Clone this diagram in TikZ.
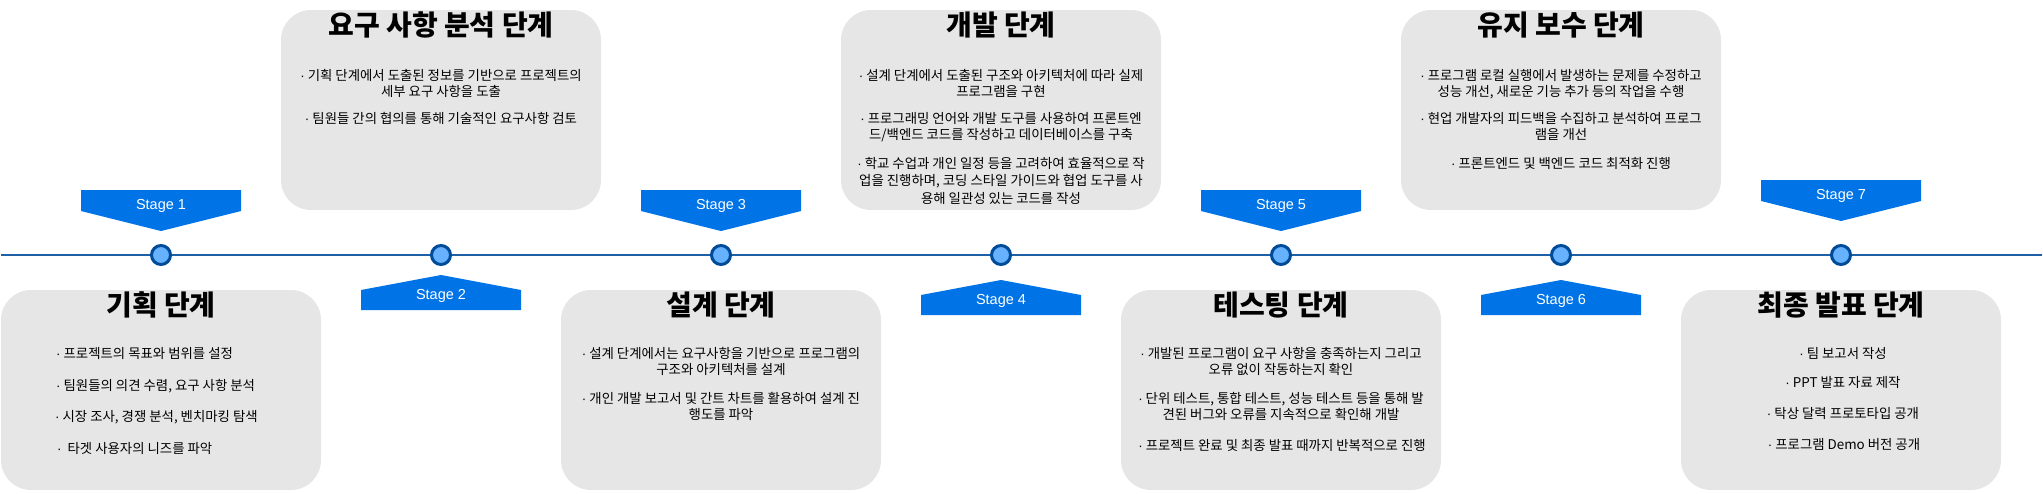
\documentclass[tikz,border=0pt]{standalone}
\usepackage{fontspec}
\setmainfont{Liberation Sans}
\newfontfamily\kr{Noto Sans CJK KR}
\definecolor{boxgray}{HTML}{E6E6E6}
\definecolor{stageblue}{HTML}{0073E6}
\definecolor{linedark}{HTML}{1F5FA6}
\definecolor{dotfill}{HTML}{66B2FF}
\definecolor{dotline}{HTML}{004C99}
\newcommand\bdot{{\normalfont ·}}
\newcommand\stagedn[2]{\fill[stageblue] (#1-80,#2) -- (#1+80,#2) -- (#1+80,#2+21) -- (#1,#2+41) -- (#1-80,#2+21) -- cycle;}
\newcommand\stageup[2]{\fill[stageblue] (#1,#2) -- (#1+80,#2+15) -- (#1+80,#2+35) -- (#1-80,#2+35) -- (#1-80,#2+15) -- cycle;}
\begin{document}
\begin{tikzpicture}[x=1pt,y=-1pt,
  card/.style={fill=boxgray, rounded corners=30pt},
  ttl/.style={font=\kr\bfseries\fontsize{28}{30}\selectfont, inner sep=0pt, text height=0.83em, text depth=0.07em},
  bul/.style={font=\kr\fontsize{13.4}{16}\selectfont, align=center, inner sep=0pt, anchor=north},
  bull/.style={font=\kr\fontsize{13.4}{16}\selectfont, inner sep=0pt, anchor=north west},
  lbl/.style={font=\fontsize{14.5}{16}\selectfont, text=white, inner sep=0pt, text height=0.716em, text depth=0pt},
  dot/.style={circle, fill=dotfill, draw=dotline, line width=3pt, minimum size=19pt, inner sep=0pt}]
\useasboundingbox (0,0) rectangle (2043,493);
% cards
\fill[card] (1,290) rectangle (321,490);
\fill[card] (281,10) rectangle (601,210);
\fill[card] (561,290) rectangle (881,490);
\fill[card] (841,10) rectangle (1161,210);
\fill[card] (1121,290) rectangle (1441,490);
\fill[card] (1401,10) rectangle (1721,210);
\fill[card] (1681,290) rectangle (2001,490);
% timeline
\coordinate (tlL) at (1,255);
\coordinate (tlR) at (2042,255);
\draw[linedark, line width=2.5pt] (tlL) -- (tlR);
\node[dot] (d1) at (161,255) {};
\node[dot] (d2) at (441,255) {};
\node[dot] (d3) at (721,255) {};
\node[dot] (d4) at (1001,255) {};
\node[dot] (d5) at (1281,255) {};
\node[dot] (d6) at (1561,255) {};
\node[dot] (d7) at (1841,255) {};
% stage markers
\stagedn{161}{190}
\stageup{441}{275}
\stagedn{721}{190}
\stageup{1001}{280}
\stagedn{1281}{190}
\stageup{1561}{280}
\stagedn{1841}{180}
\node[lbl] (s1) at (161,205.5) {Stage 1};
\node[lbl] (s2) at (441,296) {Stage 2};
\node[lbl] (s3) at (721,205.5) {Stage 3};
\node[lbl] (s4) at (1001,301) {Stage 4};
\node[lbl] (s5) at (1281,205.5) {Stage 5};
\node[lbl] (s6) at (1561,301) {Stage 6};
\node[lbl] (s7) at (1841,195.5) {Stage 7};
% box 1
\node[ttl] (t1) at (161,312) {기획 단계};
\node[bull] (b11) at (56,347) {\bdot\ 프로젝트의 목표와 범위를 설정};
\node[bull] (b12) at (56,379) {\bdot\ 팀원들의 의견 수렴, 요구 사항 분석};
\node[bull] (b13) at (55,410) {\bdot\ 시장 조사, 경쟁 분석, 벤치마킹 탐색};
\node[bull] (b14) at (57,442) {\bdot\ \ 타겟 사용자의 니즈를 파악};
% box 2
\node[ttl] (t2) at (441,32) {요구 사항 분석 단계};
\node[bul] (b21) at (441,69) {\bdot\ 기획 단계에서 도출된 정보를 기반으로 프로젝트의\\세부 요구 사항을 도출};
\node[bul] (b22) at (441,112) {\bdot\ 팀원들 간의 협의를 통해 기술적인 요구사항 검토};
% box 3
\node[ttl] (t3) at (721,312) {설계 단계};
\node[bul] (b31) at (721,347) {\bdot\ 설계 단계에서는 요구사항을 기반으로 프로그램의\\구조와 아키텍처를 설계};
\node[bul] (b32) at (721,392) {\bdot\ 개인 개발 보고서 및 간트 차트를 활용하여 설계 진\\행도를 파악};
% box 4
\node[ttl] (t4) at (1001,32) {개발 단계};
\node[bul] (b41) at (1001,69) {\bdot\ 설계 단계에서 도출된 구조와 아키텍처에 따라 실제\\프로그램을 구현};
\node[bul] (b42) at (1001,112) {\bdot\ 프로그래밍 언어와 개발 도구를 사용하여 프론트엔\\드/백엔드 코드를 작성하고 데이터베이스를 구축};
\node[bul, font=\kr\fontsize{13.4}{17.5}\selectfont] (b43) at (1001,157) {\bdot\ 학교 수업과 개인 일정 등을 고려하여 효율적으로 작\\업을 진행하며, 코딩 스타일 가이드와 협업 도구를 사\\용해 일관성 있는 코드를 작성};
% box 5
\node[ttl] (t5) at (1281,312) {테스팅 단계};
\node[bul] (b51) at (1281,347) {\bdot\ 개발된 프로그램이 요구 사항을 충족하는지 그리고\\오류 없이 작동하는지 확인};
\node[bul] (b52) at (1281,392) {\bdot\ 단위 테스트, 통합 테스트, 성능 테스트 등을 통해 발\\견된 버그와 오류를 지속적으로 확인해 개발};
\node[bul] (b53) at (1282,439) {\bdot\ 프로젝트 완료 및 최종 발표 때까지 반복적으로 진행};
% box 6
\node[ttl] (t6) at (1561,32) {유지 보수 단계};
\node[bul] (b61) at (1561,69) {\bdot\ 프로그램 로컬 실행에서 발생하는 문제를 수정하고\\성능 개선, 새로운 기능 추가 등의 작업을 수행};
\node[bul] (b62) at (1561,112) {\bdot\ 현업 개발자의 피드백을 수집하고 분석하여 프로그\\램을 개선};
\node[bul] (b63) at (1561,157) {\bdot\ 프론트엔드 및 백엔드 코드 최적화 진행};
% box 7
\node[ttl] (t7) at (1841,312) {최종 발표 단계};
\node[bul] (b71) at (1843,347) {\bdot\ 팀 보고서 작성};
\node[bul] (b72) at (1843,376) {\bdot\ PPT 발표 자료 제작};
\node[bul] (b73) at (1843,407) {\bdot\ 탁상 달력 프로토타입 공개};
\node[bul] (b74) at (1844,438) {\bdot\ 프로그램 Demo 버전 공개};
\end{tikzpicture}
\end{document}
